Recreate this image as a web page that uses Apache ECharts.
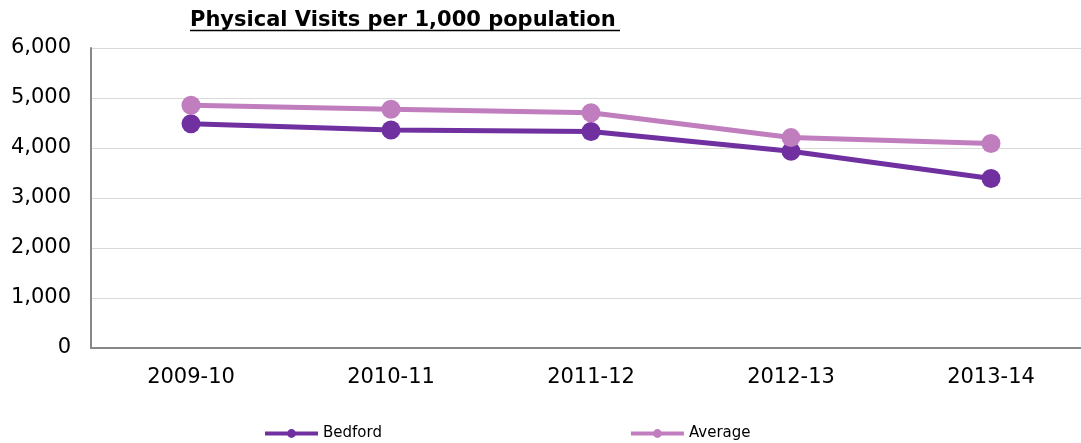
<!DOCTYPE html>
<html><head><meta charset="utf-8">
<script src="https://cdn.jsdelivr.net/npm/echarts@6/dist/echarts.min.js"></script>
<style>html,body{margin:0;padding:0;background:#fff;overflow:hidden}#c{width:1100px;height:443px}</style>
</head><body><div id="c"></div>
<script>
const categories = ['2009-10','2010-11','2011-12','2012-13','2013-14'];
const bedford = [4486, 4360, 4330, 3933, 3389];
const average = [4854, 4775, 4706, 4208, 4090];
const yTicks = [0, 1000, 2000, 3000, 4000, 5000, 6000];

const chart = echarts.init(document.getElementById('c'));
chart.setOption({
  animation: false,
  title: {
    text: 'Physical Visits per 1,000 population',
    left: 190, top: 10, padding: 0,
    textStyle: {fontFamily: 'DejaVu Sans', fontWeight: 'bold', fontSize: 21, color: '#000'}
  },
  graphic: [{type: 'line', shape: {x1: 190, y1: 30.5, x2: 620, y2: 30.5}, style: {stroke: '#000', lineWidth: 1.5}}],
  legend: {
    top: 426, left: 263, padding: 0, itemGap: 247, itemWidth: 53, itemHeight: 11,
    lineStyle: {width: 4},
    textStyle: {fontFamily: 'DejaVu Sans', fontSize: 15, color: '#000'},
    data: ['Bedford', 'Average']
  },
  grid: {left: 91, top: 48, width: 1000, height: 300},
  xAxis: {
    type: 'category', data: categories, boundaryGap: true,
    axisLine: {lineStyle: {color: '#888', width: 2}},
    axisTick: {show: false},
    axisLabel: {fontFamily: 'DejaVu Sans', fontSize: 21, color: '#000', margin: 19}
  },
  yAxis: {
    type: 'value', min: yTicks[0], max: yTicks[yTicks.length - 1], interval: 1000,
    axisLine: {show: true, lineStyle: {color: '#888', width: 2}},
    axisTick: {show: false},
    splitLine: {lineStyle: {color: '#d9d9d9', width: 1}},
    axisLabel: {fontFamily: 'DejaVu Sans', fontSize: 21, color: '#000', margin: 20,
      formatter: v => v.toLocaleString('en-US')}
  },
  series: [
    {name: 'Bedford', type: 'line', data: bedford, symbol: 'circle', symbolSize: 19,
      lineStyle: {color: '#7030A0', width: 5}, itemStyle: {color: '#7030A0'}},
    {name: 'Average', type: 'line', data: average, symbol: 'circle', symbolSize: 19,
      lineStyle: {color: '#C07EBF', width: 5}, itemStyle: {color: '#C07EBF'}}
  ]
});
</script></body></html>
